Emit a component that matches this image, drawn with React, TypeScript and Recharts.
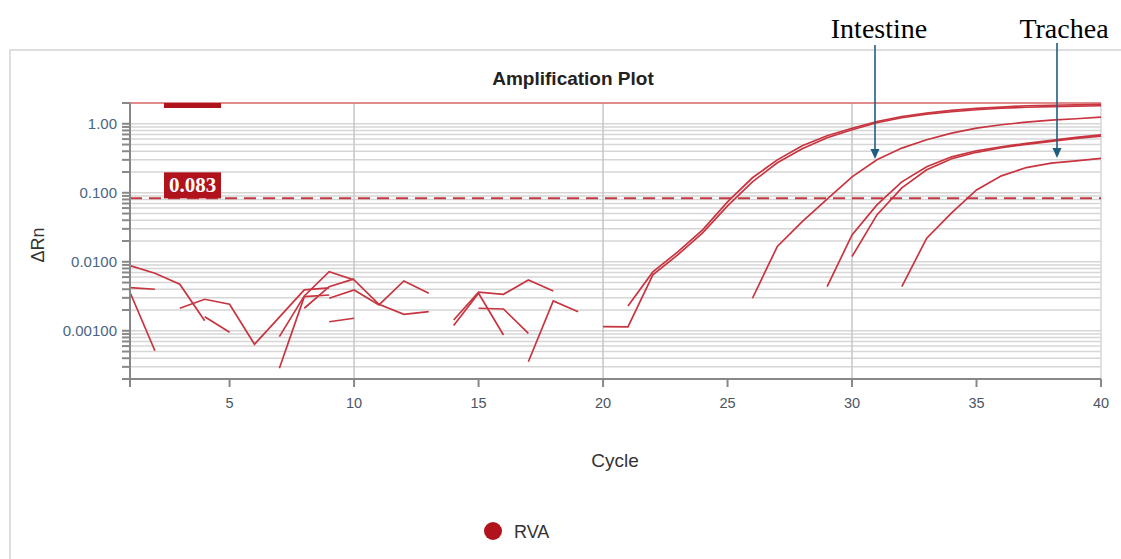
import { CartesianGrid, Line, LineChart, ReferenceLine, XAxis, YAxis } from "recharts";

const cycles = [
  1, 2, 3, 4, 5, 6, 7, 8, 9, 10, 11, 12, 13, 14, 15, 16, 17, 18, 19, 20,
  21, 22, 23, 24, 25, 26, 27, 28, 29, 30, 31, 32, 33, 34, 35, 36, 37, 38, 39, 40,
];

// background noise traces (broken where dRn is not positive)
const n1 = [0.0088, 0.00682, 0.00472, 0.0014];
const n2 = [0.00422, 0.004];
const n3 = [0.00362, 0.000514];
const n4 = [0.00212, 0.00286, 0.00242, 0.000637, 0.00158, 0.00391, 0.00418];
const n5 = [0.0016, 0.000951];
const n6 = [0.000821, 0.0032, 0.0072, 0.00546, 0.00242, 0.00173, 0.00189];
const n7 = [0.000286, 0.00312, 0.0033];
const n8 = [0.00212, 0.00436, 0.00564];
const n9 = [0.00296, 0.00391, 0.00237, 0.00528, 0.0035];
const n10 = [0.00135, 0.00152];
const n11 = [0.00143, 0.00362, 0.00338, 0.00546, 0.00378];
const n12 = [0.00119, 0.0035, 0.000869];
const n13 = [0.00212, 0.00207, 0.000919];
const n14 = [0.000356, 0.00271, 0.00189];

// amplification curves
const ampA1 = [
  0.00229, 0.00713, 0.0139, 0.029, 0.0739, 0.165, 0.3, 0.48, 0.67, 0.86,
  1.08, 1.276, 1.43, 1.56, 1.667, 1.747, 1.824, 1.855, 1.886, 1.918,
];
const ampA2 = [
  0.00115, 0.00114, 0.00645, 0.0126, 0.0262, 0.0646, 0.144, 0.272, 0.434, 0.626,
  0.818, 1.034, 1.222, 1.373, 1.493, 1.596, 1.679, 1.735, 1.776, 1.806, 1.824,
];
const ampB = [
  0.00296, 0.0167, 0.0382, 0.0808, 0.17, 0.3, 0.444, 0.586, 0.733, 0.866,
  0.967, 1.058, 1.132, 1.182, 1.251,
];
const ampC1 = [0.00436, 0.0245, 0.0668, 0.144, 0.238, 0.332, 0.406, 0.464, 0.521, 0.576, 0.637, 0.692];
const ampC2 = [0.0119, 0.0478, 0.118, 0.215, 0.311, 0.386, 0.449, 0.504, 0.557, 0.616, 0.659];
const ampD = [0.00436, 0.022, 0.0511, 0.11, 0.176, 0.232, 0.269, 0.29, 0.316];

const wells: [string, number, number[]][] = [
  ["n1", 1, n1], ["n2", 1, n2], ["n3", 1, n3], ["n4", 3, n4], ["n5", 4, n5],
  ["n6", 7, n6], ["n7", 7, n7], ["n8", 8, n8], ["n9", 9, n9], ["n10", 9, n10],
  ["n11", 14, n11], ["n12", 14, n12], ["n13", 15, n13], ["n14", 17, n14],
  ["a1", 21, ampA1], ["a2", 20, ampA2], ["b", 26, ampB],
  ["c1", 29, ampC1], ["c2", 30, ampC2], ["d", 32, ampD],
];

const threshold = 0.083;
const xTicks = [1, 5, 10, 15, 20, 25, 30, 35, 40];
const yLabels: Record<string, string> = { "1": "1.00", "0.1": "0.100", "0.01": "0.0100", "0.001": "0.00100" };

const yTicks: number[] = [];
for (let e = -4; e <= 0; e++) {
  for (let k = 1; k <= 9; k++) {
    const v = Number((k * Math.pow(10, e)).toPrecision(2));
    if (v >= 0.0002 && v <= 2) yTicks.push(v);
  }
}

const rows = cycles.map((c) => {
  const row: Record<string, number | null> = { cycle: c };
  wells.forEach(([id, start, vals]) => {
    const i = c - start;
    row[id] = i >= 0 && i < vals.length ? vals[i] : null;
  });
  return row;
});

const RED = "#c8343f";
const TAG = "#b1131c";

function ThresholdTag(props: any) {
  const { viewBox } = props;
  const x = viewBox.x + 34;
  const y = viewBox.y;
  return (
    <g>
      <rect x={x} y={y - 26} width={57} height={26} fill={TAG} />
      <text
        x={x + 28.5}
        y={y - 6}
        textAnchor="middle"
        fill="#fff"
        fontSize={21}
        fontWeight="bold"
        fontFamily="'Liberation Serif', serif"
      >
        0.083
      </text>
    </g>
  );
}

function TopTag(props: any) {
  const { viewBox } = props;
  return <rect x={viewBox.x + 34} y={viewBox.y} width={57} height={5} fill={TAG} />;
}

export default function App() {
  return (
    <div
      style={{
        position: "absolute",
        left: 0,
        top: 0,
        width: 1121,
        height: 559,
        background: "#fff",
        fontFamily: "'Liberation Sans', Arial, sans-serif",
      }}
    >
      <svg width={1121} height={559} style={{ position: "absolute", left: 0, top: 0 }}>
        <polyline points="10,559 10,50 1121,50" fill="none" stroke="#dedede" strokeWidth={2} />
        <text x={573} y={85} textAnchor="middle" fontSize={19} fontWeight="bold" fill="#222">
          Amplification Plot
        </text>
        <text x={615} y={467} textAnchor="middle" fontSize={19} fill="#333">
          Cycle
        </text>
        <text x={44} y={245} textAnchor="middle" fontSize={18} fill="#333" transform="rotate(-90 44 245)">
          ΔRn
        </text>
        <circle cx={493} cy={531} r={9} fill={TAG} />
        <text x={514} y={537.5} fontSize={18} fill="#333">
          RVA
        </text>
      </svg>
      <div style={{ position: "absolute", left: 0, top: 0 }}>
        <LineChart width={1121} height={559} data={rows} margin={{ top: 103, right: 20, bottom: 150, left: 70 }}>
          <CartesianGrid vertical={false} stroke="#d6d6d6" strokeWidth={1.5} />
          <ReferenceLine x={10} stroke="#c6c6c6" strokeWidth={1.5} />
          <ReferenceLine x={20} stroke="#c6c6c6" strokeWidth={1.5} />
          <ReferenceLine x={30} stroke="#c6c6c6" strokeWidth={1.5} />
          <ReferenceLine x={40} stroke="#d6d6d6" strokeWidth={1.5} />
          <XAxis
            type="number"
            dataKey="cycle"
            domain={[1, 40]}
            ticks={xTicks}
            interval={0}
            height={30}
            tickSize={8}
            tickMargin={11}
            tickFormatter={(v) => (v === 1 ? "" : String(v))}
            stroke="#888"
            strokeWidth={2}
            tick={{ fill: "#4b5563", fontSize: 14.5 }}
          />
          <YAxis
            type="number"
            scale="log"
            domain={[0.0002, 2]}
            allowDataOverflow
            ticks={yTicks}
            interval={0}
            width={60}
            tickSize={8}
            tickMargin={5}
            tickFormatter={(v) => yLabels[String(v)] ?? ""}
            stroke="#888"
            strokeWidth={2}
            tick={{ fill: "#4a6585", fontSize: 15 }}
          />
          <ReferenceLine y={2} stroke="#e07070" strokeWidth={1.5} label={<TopTag />} />
          <ReferenceLine
            y={threshold}
            stroke="#c43a42"
            strokeWidth={2}
            strokeDasharray="12 7"
            label={<ThresholdTag />}
          />
          {wells.map(([id]) => (
            <Line
              key={id}
              dataKey={id}
              stroke={RED}
              strokeWidth={1.7}
              dot={false}
              activeDot={false}
              connectNulls={false}
              isAnimationActive={false}
            />
          ))}
        </LineChart>
      </div>
      <svg width={1121} height={559} style={{ position: "absolute", left: 0, top: 0, pointerEvents: "none" }}>
        <text x={879} y={37.5} textAnchor="middle" fontSize={28} fontFamily="'Liberation Serif', serif" fill="#000">
          Intestine
        </text>
        <text x={1064} y={37.5} textAnchor="middle" fontSize={28} fontFamily="'Liberation Serif', serif" fill="#000">
          Trachea
        </text>
        <line x1={875} y1={45} x2={875} y2={150} stroke="#215d7f" strokeWidth={1.6} />
        <polygon points="870.5,149 879.5,149 875,159" fill="#215d7f" />
        <line x1={1057} y1={43} x2={1057} y2={149} stroke="#215d7f" strokeWidth={1.6} />
        <polygon points="1052.5,148 1061.5,148 1057,158" fill="#215d7f" />
      </svg>
    </div>
  );
}
